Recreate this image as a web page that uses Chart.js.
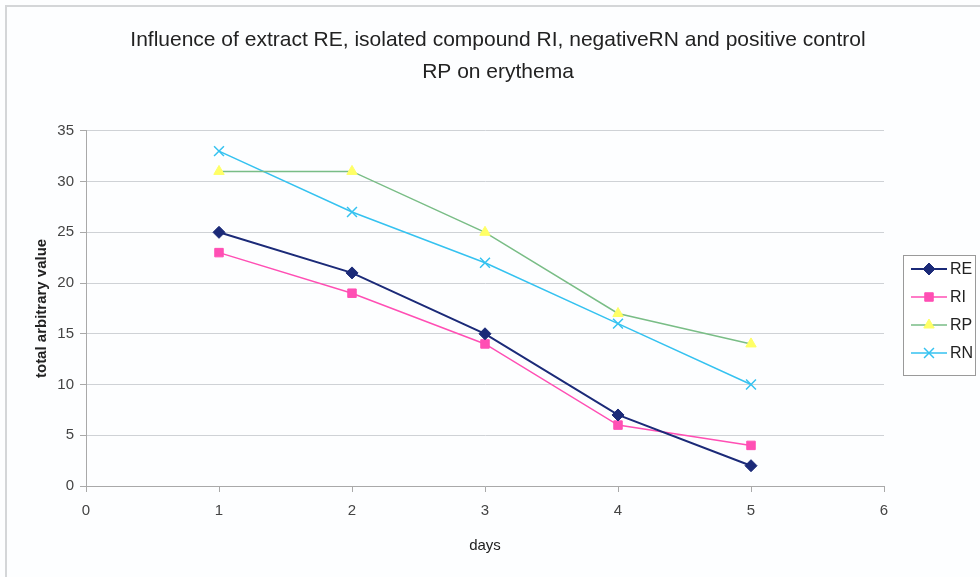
<!DOCTYPE html>
<html>
<head>
<meta charset="utf-8">
<script src="https://cdn.jsdelivr.net/npm/chart.js@4/dist/chart.umd.min.js"></script>
<style>
    html, body { margin: 0; padding: 0; background: #ffffff; }
    #wrap { width: 980px; height: 577px; }
</style>
</head>
<body>
<div id="wrap"><canvas id="erythemaChart"></canvas></div>
<script>
// 数据
const days = [1, 2, 3, 4, 5];
const seriesNames = ['RE', 'RI', 'RP', 'RN'];
const reValues = [25, 21, 15, 7, 2];
const riValues = [23, 19, 14, 6, 4];
const rpValues = [31, 31, 25, 17, 14];
const rnValues = [33, 27, 22, 16, 10];
const xTicks = [0, 1, 2, 3, 4, 5, 6];
const yTicks = [0, 5, 10, 15, 20, 25, 30, 35];

const FONT = "'Liberation Sans', Arial, sans-serif";

function toPoints(values) {
    return days.map((d, i) => ({ x: d, y: values[i] }));
}

function makeSet(label, values, lineColor, pointColor, style, radius, width) {
    return {
        label: label,
        data: toPoints(values),
        showLine: true,
        yAxisID: 'y',
        borderColor: lineColor,
        backgroundColor: pointColor,
        pointBorderColor: style === 'crossRot' ? lineColor : pointColor,
        pointBackgroundColor: pointColor,
        pointStyle: style,
        pointRadius: radius,
        pointBorderWidth: style === 'crossRot' ? 1.5 : 1,
        borderWidth: width,
        tension: 0
    };
}

// 背景和外框
const backgroundPlugin = {
    id: 'backgroundPlugin',
    beforeDraw(chart) {
        const c = chart.ctx;
        c.save();
        c.fillStyle = '#fdfeff';
        c.fillRect(0, 0, chart.width, chart.height);
        c.strokeStyle = '#d4d6d8';
        c.lineWidth = 2;
        c.beginPath();
        c.moveTo(6, chart.height);
        c.lineTo(6, 6);
        c.lineTo(chart.width, 6);
        c.stroke();
        c.restore();
    }
};

// 图例（线 + 标记）
const legendPlugin = {
    id: 'legendPlugin',
    afterDraw(chart) {
        const c = chart.ctx;
        const left = 903, top = 255, w = 72, h = 120;
        c.save();
        c.fillStyle = '#ffffff';
        c.fillRect(left, top, w, h);
        c.strokeStyle = '#9a9a9a';
        c.lineWidth = 1;
        c.strokeRect(left + 0.5, top + 0.5, w, h);
        chart.data.datasets.forEach((ds, i) => {
            const y = top + 14 + i * 28;
            c.strokeStyle = ds.borderColor;
            c.lineWidth = ds.borderWidth;
            c.beginPath();
            c.moveTo(left + 8, y);
            c.lineTo(left + 44, y);
            c.stroke();
            c.fillStyle = ds.pointBackgroundColor;
            c.strokeStyle = ds.pointBorderColor;
            c.lineWidth = ds.pointBorderWidth;
            Chart.helpers.drawPoint(c, {
                pointStyle: ds.pointStyle,
                radius: ds.pointRadius,
                borderWidth: ds.pointBorderWidth,
                rotation: 0
            }, left + 26, y);
            c.fillStyle = '#222222';
            c.font = '16px ' + FONT;
            c.textBaseline = 'middle';
            c.textAlign = 'left';
            c.fillText(ds.label, left + 47, y + 1);
        });
        c.restore();
    }
};

const ctx = document.getElementById('erythemaChart').getContext('2d');

new Chart(ctx, {
    type: 'scatter',
    data: {
        datasets: [
            makeSet(seriesNames[0], reValues, '#1b2a78', '#1b2a78', 'rectRot', 6, 2),
            makeSet(seriesNames[1], riValues, '#ff4fb4', '#ff4fb4', 'rect', 6, 1.5),
            makeSet(seriesNames[2], rpValues, '#79bd86', '#ffff66', 'triangle', 6, 1.5),
            makeSet(seriesNames[3], rnValues, '#35c2f0', '#35c2f0', 'crossRot', 7, 1.5)
        ]
    },
    options: {
        responsive: true,
        maintainAspectRatio: false,
        animation: false,
        layout: { padding: { left: 16, right: 0, top: 0, bottom: 0 } },
        scales: {
            x: {
                type: 'linear',
                min: 0,
                max: 6,
                afterBuildTicks: (scale) => { scale.ticks = xTicks.map(v => ({ value: v })); },
                afterFit: (scale) => { scale.height = 91; },
                grid: {
                    display: true,
                    drawOnChartArea: false,
                    drawTicks: true,
                    tickLength: 6,
                    color: '#a9a9a9'
                },
                border: { display: true, color: '#a9a9a9', width: 1 },
                ticks: {
                    color: '#444444',
                    font: { family: FONT, size: 15 },
                    padding: 10,
                    maxRotation: 0
                },
                title: {
                    display: true,
                    text: 'days',
                    color: '#222222',
                    font: { family: FONT, size: 15 },
                    padding: { top: 0, bottom: 22 }
                }
            },
            y: {
                type: 'linear',
                min: 0,
                max: 35,
                afterBuildTicks: (scale) => { scale.ticks = yTicks.map(v => ({ value: v })); },
                afterFit: (scale) => { scale.width = 70; },
                grid: {
                    color: '#cfd2d6',
                    lineWidth: 1,
                    tickLength: 6,
                    tickColor: '#a9a9a9'
                },
                border: { display: true, color: '#a9a9a9', width: 1 },
                ticks: {
                    color: '#444444',
                    font: { family: FONT, size: 15 },
                    padding: 6
                },
                title: {
                    display: true,
                    text: 'total arbitrary value',
                    color: '#222222',
                    font: { family: FONT, size: 15, weight: 'bold' },
                    padding: { top: 17, bottom: 0 }
                }
            },
            // 右侧留白给图例
            legendSpace: {
                type: 'linear',
                position: 'right',
                min: 0,
                max: 35,
                afterFit: (scale) => { scale.width = 96; },
                grid: { display: false },
                border: { display: false },
                ticks: { display: false },
                title: { display: false }
            }
        },
        plugins: {
            legend: { display: false },
            tooltip: { enabled: false },
            title: {
                display: true,
                text: ['Influence of extract RE, isolated compound RI, negativeRN and positive control', 'RP on erythema'],
                color: '#222222',
                font: { family: FONT, size: 21, weight: 'normal', lineHeight: 1.52 },
                padding: { top: 24, bottom: 43 }
            }
        }
    },
    plugins: [backgroundPlugin, legendPlugin]
});
</script>
</body>
</html>
